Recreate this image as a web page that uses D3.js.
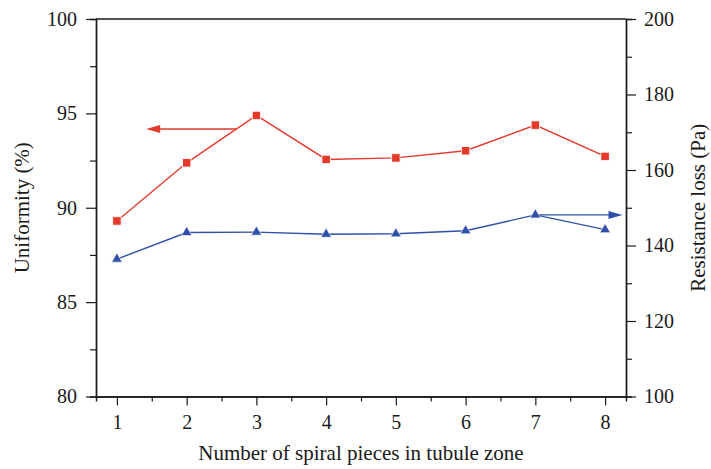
<!DOCTYPE html>
<html>
<head>
<meta charset="utf-8">
<script src="https://cdn.jsdelivr.net/npm/d3@7"></script>
<style>
  body { margin: 0; background: #fff; }
  svg text { font-family: "Liberation Serif", "DejaVu Serif", serif; fill: #1a1a1a; }
</style>
</head>
<body>
<div id="chart"></div>
<script>
// Data
const pieces = [1, 2, 3, 4, 5, 6, 7, 8];
const uniformity = [89.30, 92.38, 94.89, 92.56, 92.64, 93.02, 94.38, 92.72];
const resistance = [136.4, 143.45, 143.55, 143.0, 143.1, 143.9, 148.1, 144.2];

const leftTicks = [80, 85, 90, 95, 100];
const rightTicks = [100, 120, 140, 160, 180, 200];

const margin = { top: 19, right: 85, bottom: 72.5, left: 96 };
const W = 711, H = 469;
const width = W - margin.left - margin.right;
const height = H - margin.top - margin.bottom;

const red = '#e5392b';
const blue = '#2f4fa9';

const svg = d3.select('#chart').append('svg')
    .attr('width', W)
    .attr('height', H)
    .append('g')
    .attr('transform', `translate(${margin.left},${margin.top})`);

const x = d3.scaleLinear().domain([0.7, 8.3]).range([0, width]);
const yL = d3.scaleLinear().domain([80, 100]).range([height, 0]);
const yR = d3.scaleLinear().domain([100, 200]).range([height, 0]);

function styleAxis(g) {
    g.select('.domain').attr('stroke', '#1a1a1a').attr('stroke-width', 1.4);
    g.selectAll('.tick line').attr('stroke', '#1a1a1a').attr('stroke-width', 1.2);
    g.selectAll('.tick text').style('font-size', '20px');
}

// minor ticks
svg.append('g')
    .call(d3.axisLeft(yL).tickValues(d3.range(82.5, 100, 5)).tickSize(6).tickFormat(''))
    .call(styleAxis);
svg.append('g')
    .attr('transform', `translate(${width},0)`)
    .call(d3.axisRight(yR).tickValues(d3.range(110, 200, 20)).tickSize(6).tickFormat(''))
    .call(styleAxis);
svg.append('g')
    .attr('transform', `translate(0,${height})`)
    .call(d3.axisBottom(x).tickValues(d3.range(1.5, 8, 1)).tickSize(5).tickFormat(''))
    .call(styleAxis);

// major axes
svg.append('g')
    .call(d3.axisLeft(yL).tickValues(leftTicks).tickSize(10).tickPadding(9).tickSizeOuter(0))
    .call(styleAxis);
svg.append('g')
    .attr('transform', `translate(${width},0)`)
    .call(d3.axisRight(yR).tickValues(rightTicks).tickSize(10).tickPadding(8).tickSizeOuter(0))
    .call(styleAxis);
svg.append('g')
    .attr('transform', `translate(0,${height})`)
    .call(d3.axisBottom(x).tickValues(pieces).tickSize(9).tickPadding(9).tickSizeOuter(0).tickFormat(d3.format('d')))
    .call(styleAxis);
svg.append('line')
    .attr('x1', 0).attr('x2', width).attr('y1', 0).attr('y2', 0)
    .attr('stroke', '#1a1a1a').attr('stroke-width', 1.4);

// series
const redLine = d3.line().x((d, i) => x(pieces[i])).y(d => yL(d));
const blueLine = d3.line().x((d, i) => x(pieces[i])).y(d => yR(d));

svg.append('path').datum(uniformity)
    .attr('d', redLine).attr('fill', 'none').attr('stroke', red).attr('stroke-width', 1.4);
svg.append('path').datum(resistance)
    .attr('d', blueLine).attr('fill', 'none').attr('stroke', blue).attr('stroke-width', 1.4);

// arrows
function arrow(x1, x2, y, color) {
    const dir = Math.sign(x2 - x1);
    const len = 14, hw = 4;
    svg.append('line')
        .attr('x1', x1).attr('x2', x2 - dir * len * 0.5).attr('y1', y).attr('y2', y)
        .attr('stroke', color).attr('stroke-width', 1.4);
    svg.append('path')
        .attr('d', `M${x2},${y}L${x2 - dir * len},${y - hw}L${x2 - dir * len},${y + hw}Z`)
        .attr('fill', color);
}
arrow(x(2.71), x(1.42), yL(94.17), red);
arrow(x(7), x(8.25), yR(148.1), blue);

svg.selectAll('.sq').data(uniformity).enter().append('rect')
    .attr('x', (d, i) => x(pieces[i]) - 4.2)
    .attr('y', d => yL(d) - 4.2)
    .attr('width', 8.4).attr('height', 8.4)
    .attr('fill', red).attr('stroke', '#fff').attr('stroke-width', 0.8);

svg.selectAll('.tri').data(resistance).enter().append('path')
    .attr('transform', (d, i) => `translate(${x(pieces[i])},${yR(d)})`)
    .attr('d', d3.symbol(d3.symbolTriangle, 48)())
    .attr('fill', blue).attr('stroke', '#fff').attr('stroke-width', 0.6);

// titles
svg.append('text')
    .attr('x', width / 2)
    .attr('y', 441)
    .attr('text-anchor', 'middle')
    .style('font-size', '21px')
    .text('Number of spiral pieces in tubule zone');

svg.append('text')
    .attr('transform', 'rotate(-90)')
    .attr('x', -height / 2)
    .attr('y', -67)
    .attr('text-anchor', 'middle')
    .style('font-size', '21px')
    .text('Uniformity (%)');

svg.append('text')
    .attr('transform', `translate(${width + 79},${height / 2}) rotate(-90)`)
    .attr('text-anchor', 'middle')
    .style('font-size', '21px')
    .text('Resistance loss (Pa)');
</script>
</body>
</html>
